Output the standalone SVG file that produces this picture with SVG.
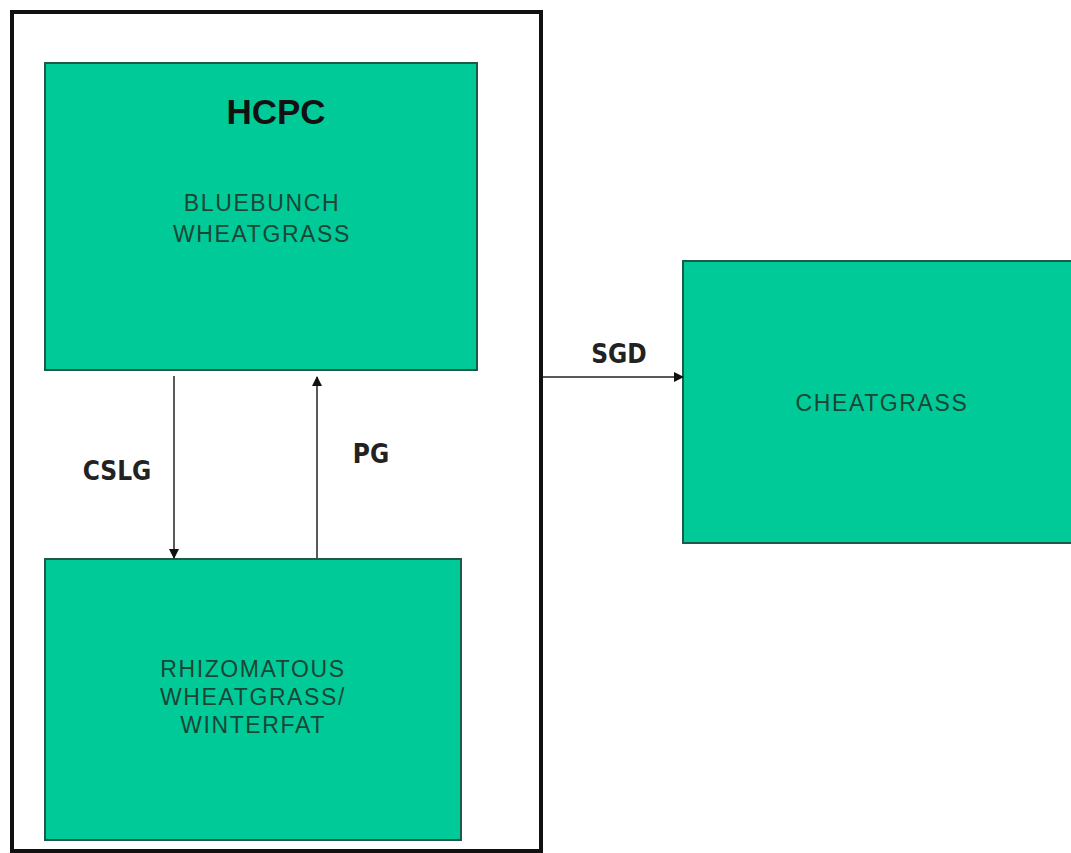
<svg xmlns="http://www.w3.org/2000/svg" width="1071" height="853" viewBox="0 0 1071 853">
<defs>
<marker id="ah" markerWidth="10" markerHeight="10" refX="9" refY="5" orient="auto" markerUnits="userSpaceOnUse">
<path d="M0,0 L10,5 L0,10 z" fill="#111"/>
</marker>
<style>
.box{fill:#00cb98;stroke:#1f5a48;stroke-width:2}
.lbl{font-family:"Liberation Sans",Arial,sans-serif;font-size:23px;letter-spacing:1.6px;fill:#1b4636;text-anchor:middle}
.edge{font-family:"DejaVu Sans Condensed","DejaVu Sans",sans-serif;font-weight:bold;font-size:26px;fill:#222;text-anchor:middle}
.conn{stroke:#222;stroke-width:1.5;fill:none;marker-end:url(#ah)}
</style>
</defs>
<rect width="1071" height="853" fill="#fff"/>
<g id="outer"><rect x="12" y="12" width="529" height="839" fill="none" stroke="#111" stroke-width="4"/></g>
<g id="hcpc">
<rect class="box" x="45" y="63" width="432" height="307"/>
<text x="276" y="124" style="font-family:'Liberation Sans',Arial,sans-serif;font-weight:bold;font-size:35px;fill:#111;text-anchor:middle">HCPC</text>
<text class="lbl" x="262" y="211">BLUEBUNCH</text>
<text class="lbl" x="262" y="242">WHEATGRASS</text>
</g>
<g id="rhizo">
<rect class="box" x="45" y="559" width="416" height="281"/>
<text class="lbl" x="253" y="677">RHIZOMATOUS</text>
<text class="lbl" x="253" y="705">WHEATGRASS/</text>
<text class="lbl" x="253" y="733">WINTERFAT</text>
</g>
<g id="cheat">
<rect class="box" x="683" y="261" width="400" height="282"/>
<text class="lbl" x="882" y="411">CHEATGRASS</text>
</g>
<g id="connectors">
<line class="conn" x1="174" y1="376" x2="174" y2="558"/>
<line class="conn" x1="317" y1="558" x2="317" y2="377"/>
<line class="conn" x1="543" y1="377" x2="683" y2="377"/>
<text class="edge" x="117" y="480">CSLG</text>
<text class="edge" x="371" y="463">PG</text>
<text class="edge" x="619" y="363">SGD</text>
</g>
</svg>
